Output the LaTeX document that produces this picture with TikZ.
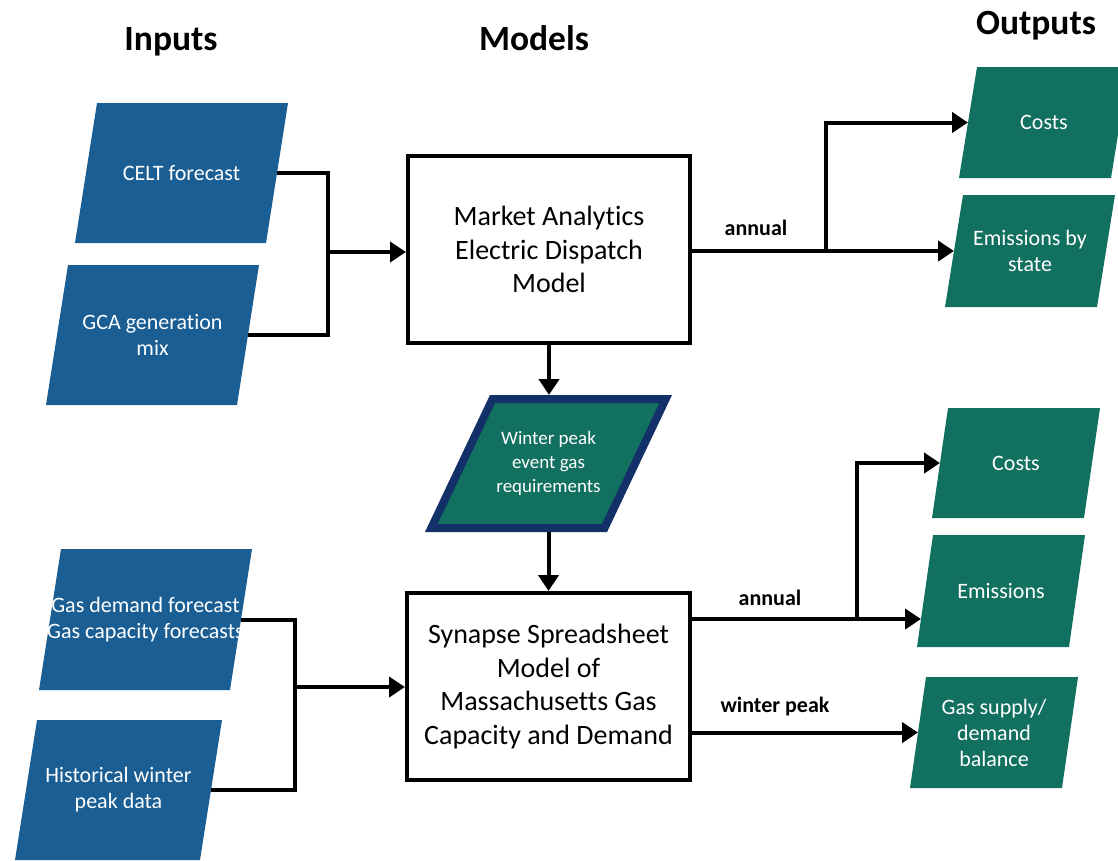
\documentclass[tikz,border=0pt]{standalone}
\usepackage{fontspec}
\setmainfont{Carlito}[Ligatures=NoCommon]
\usetikzlibrary{arrows.meta,backgrounds,calc}
\definecolor{inblue}{RGB}{27,94,147}
\definecolor{outgreen}{RGB}{18,112,96}
\definecolor{navyb}{RGB}{20,48,104}
\newcommand{\paraf}[3]{\fill[#3] ([xshift=#2]#1.north west) -- (#1.north east) -- ([xshift=-#2]#1.south east) -- (#1.south west) -- cycle;}
\tikzset{
  ln/.style={line width=4pt, draw=black},
  arr/.style={ln, -{Triangle[length=16pt,width=20pt]}},
  modelbox/.style={draw, line width=4pt, fill=white, inner sep=0pt, align=center, font=\fontsize{28}{33.5}\selectfont},
  pbox/.style={inner sep=0pt, outer sep=0pt, align=center, text=white, font=\fontsize{22}{26}\selectfont},
  ttl/.style={font=\bfseries\fontsize{35.5}{40}\selectfont, anchor=base},
  lab/.style={font=\bfseries\fontsize{22}{26}\selectfont, anchor=base},
}
\begin{document}
\begin{tikzpicture}[x=1pt,y=-1pt]
\path[use as bounding box, clip] (0,0) rectangle (1118,860);

% titles
\node[ttl] (tin) at (171,50) {Inputs};
\node[ttl] (tmod) at (534,50) {Models};
\node[ttl] (tout) at (1036,34) {Outputs};

% inputs
\node[pbox, minimum width=213pt, minimum height=140pt] (celt) at (181.5,173) {CELT forecast};
\node[pbox, minimum width=213pt, minimum height=140pt] (gca) at (152.5,335) {GCA generation\\mix};
\node[pbox, minimum width=213pt, minimum height=141pt] (gasd) at (145.5,619.5) {Gas demand forecast\\Gas capacity forecasts};
\node[pbox, minimum width=207pt, minimum height=140pt] (hist) at (118.5,790) {Historical winter\\peak data};

% models
\node[modelbox, minimum width=282pt, minimum height=187pt] (box1) at (549,249.5) {Market Analytics\\Electric Dispatch\\Model};
\node[modelbox, minimum width=283pt, minimum height=187pt] (box2) at (548.5,686.5) {Synapse Spreadsheet\\Model of\\Massachusetts Gas\\Capacity and Demand};

% winter peak
\node[pbox, font=\fontsize{19}{24}\selectfont, minimum width=234.4pt, minimum height=129pt] (wp) at (548.5,463.5) {Winter peak\\event gas\\requirements};

% outputs
\node[pbox, minimum width=170pt, minimum height=111pt] (c1) at (1044,122.5) {Costs};
\node[pbox, minimum width=170pt, minimum height=112pt] (e1) at (1030,251) {Emissions by\\state};
\node[pbox, minimum width=168pt, minimum height=110pt] (c2) at (1016,463) {Costs};
\node[pbox, minimum width=168pt, minimum height=112pt] (e2) at (1001,591) {Emissions};
\node[pbox, minimum width=168pt, minimum height=111pt] (g2) at (994,732.5) {Gas supply/\\demand\\balance};

\begin{scope}[on background layer]
  \paraf{celt}{22pt}{inblue}
  \paraf{gca}{22pt}{inblue}
  \paraf{gasd}{22pt}{inblue}
  \paraf{hist}{22pt}{inblue}
  \paraf{c1}{18pt}{outgreen}
  \paraf{e1}{18pt}{outgreen}
  \paraf{c2}{16pt}{outgreen}
  \paraf{e2}{16pt}{outgreen}
  \paraf{g2}{16pt}{outgreen}
  \draw[navyb, line width=8pt, line join=miter, fill=outgreen] ([xshift=61.2pt]wp.north west) -- (wp.north east) -- ([xshift=-61.2pt]wp.south east) -- (wp.south west) -- cycle;
\end{scope}

% connector end points on the slanted sides
\coordinate (celtm) at ([xshift=-11pt]celt.east);
\coordinate (gcam) at ([xshift=-11pt]gca.east);
\coordinate (gasdm) at ([xshift=-11pt]gasd.east);
\coordinate (histm) at ([xshift=-11pt]hist.east);
\coordinate (c1m) at ([xshift=9pt]c1.west);
\coordinate (e1m) at ([xshift=9pt]e1.west);
\coordinate (c2m) at ([xshift=8pt]c2.west);
\coordinate (e2m) at ($(e2.south west)!0.25!([xshift=16pt]e2.north west)$);
\coordinate (g2m) at ([xshift=8pt]g2.west);
\coordinate (wpt) at ([yshift=4pt]wp.north);
\coordinate (wpb) at ([yshift=-4pt]wp.south);
\coordinate (j1) at (328,252);
\coordinate (j2) at (295,687);
\coordinate (b1) at (826,0);
\coordinate (b2) at (857,0);

% input connectors
\draw[ln] (celtm) -| (j1) |- (gcam);
\draw[arr] (j1) -- (j1 -| box1.west);
\draw[ln] (gasdm) -| (j2) |- (histm);
\draw[arr] (j2) -- (j2 -| box2.west);

% middle
\draw[arr] (box1.south) -- (box1.south |- wpt);
\draw[arr] (box2.north |- wpb) -- (box2.north);

% outputs top
\draw[arr] (box1.east |- e1m) -- (e1m);
\draw[arr] (b1 |- e1m) |- (c1m);
\node[lab] (lan1) at (756,235) {annual};

% outputs bottom
\draw[arr] (box2.east |- e2m) -- (e2m);
\draw[arr] (b2 |- e2m) |- (c2m);
\draw[arr] (box2.east |- g2m) -- (g2m);
\node[lab] (lan2) at (770,605) {annual};
\node[lab] (lwp) at (775,712) {winter peak};
\end{tikzpicture}
\end{document}
